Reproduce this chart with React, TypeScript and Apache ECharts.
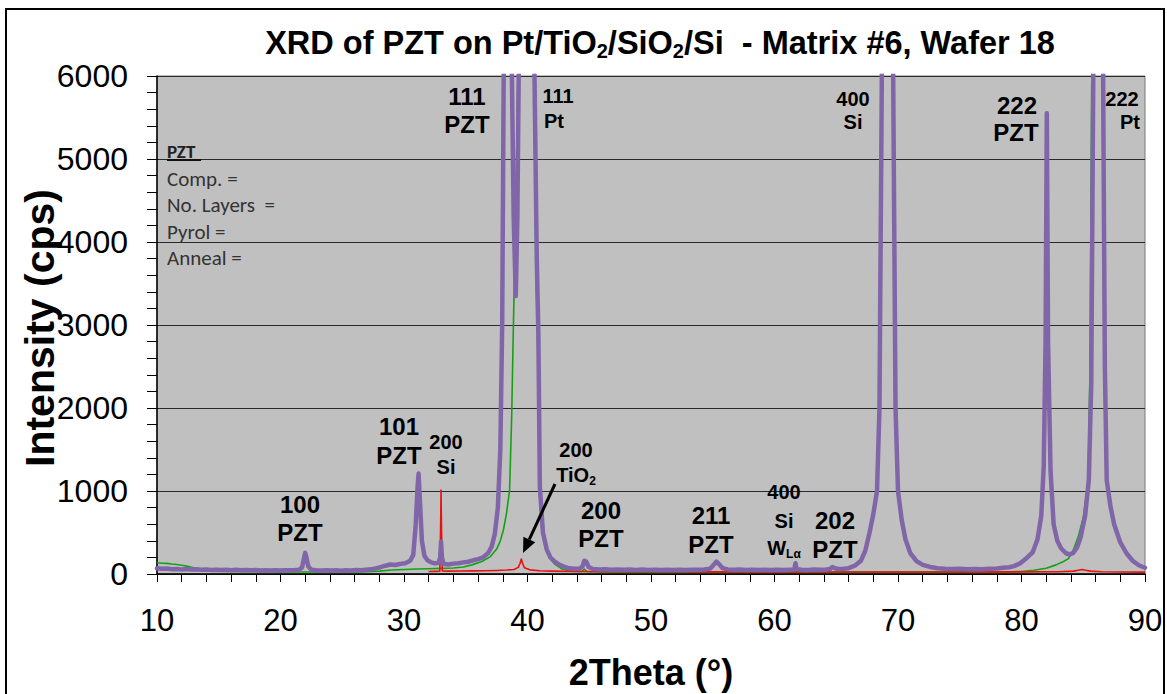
import React, { useEffect, useRef } from "react";
import * as echarts from "echarts";

// 2θ scan of the PZT film (counts per second)
const pztScan: [number, number][] = [
  [10, 68], [10.4, 62], [10.8, 66], [11.2, 58], [11.6, 61], [12, 55], [12.4, 59], [12.8, 53],
  [13.2, 56], [13.6, 50], [14, 54], [14.4, 49], [14.8, 52], [15.2, 47], [15.6, 51], [16, 46],
  [16.4, 50], [16.8, 45], [17.2, 48], [17.6, 44], [18, 47], [18.4, 43], [18.8, 46], [19.2, 42],
  [19.6, 45], [20, 43], [20.4, 46], [20.8, 44], [21.2, 48], [21.5, 52], [21.75, 80], [21.9, 190],
  [22.0, 255], [22.1, 200], [22.25, 90], [22.5, 52], [22.9, 45], [23.3, 42], [23.7, 46], [24.1, 41],
  [24.5, 44], [24.9, 40], [25.3, 45], [25.7, 42], [26.1, 47], [26.5, 45], [26.9, 50], [27.3, 56],
  [27.7, 68], [28.1, 82], [28.5, 100], [28.9, 115], [29.3, 108], [29.7, 122], [30.1, 130], [30.5, 160],
  [30.75, 230], [30.95, 600], [31.1, 1050], [31.18, 1210], [31.3, 850], [31.45, 400], [31.65, 220],
  [31.9, 165], [32.2, 140], [32.5, 128], [32.8, 135], [32.93, 200], [33.0, 390], [33.07, 200],
  [33.2, 120], [33.6, 115], [34.0, 125], [34.4, 130], [34.8, 140], [35.2, 148], [35.6, 165],
  [36.0, 180], [36.4, 200], [36.8, 250], [37.1, 330], [37.35, 480], [37.6, 800], [37.8, 1500],
  [37.95, 3000], [38.08, 6200], [38.4, 40000], [38.72, 6200], [38.88, 4300], [39.05, 3350],
  [39.18, 4300], [39.3, 6200], [39.76, 100000], [40.55, 6200], [40.75, 3800], [40.88, 2900],
  [41.0, 1050], [41.25, 500], [41.55, 300], [41.85, 200], [42.2, 150], [42.6, 110], [43.0, 85],
  [43.4, 68], [43.8, 62], [44.2, 66], [44.45, 90], [44.6, 160], [44.75, 150], [44.95, 85],
  [45.3, 60], [45.8, 55], [46.3, 58], [46.8, 52], [47.3, 55], [47.8, 50], [48.3, 54], [48.8, 49],
  [49.3, 53], [49.8, 48], [50.3, 52], [50.8, 48], [51.3, 51], [51.8, 47], [52.3, 51], [52.8, 48],
  [53.3, 52], [53.8, 50], [54.3, 55], [54.8, 65], [55.1, 115], [55.3, 150], [55.5, 120], [55.8, 70],
  [56.2, 55], [56.7, 50], [57.2, 53], [57.7, 48], [58.2, 52], [58.7, 47], [59.2, 51], [59.7, 48],
  [60.2, 52], [60.7, 49], [61.2, 52], [61.6, 54], [61.7, 130], [61.8, 56], [62.2, 52], [62.7, 49],
  [63.2, 53], [63.7, 50], [64.2, 55], [64.5, 62], [64.7, 85], [64.9, 70], [65.2, 60], [65.6, 62],
  [66.0, 70], [66.5, 100], [67.0, 160], [67.35, 280], [67.7, 500], [68.0, 720], [68.3, 1000],
  [68.5, 2000], [68.7, 6200], [69.15, 200000], [69.6, 6200], [69.8, 2000], [70.0, 1000],
  [70.3, 650], [70.6, 420], [71.0, 250], [71.5, 155], [72.0, 110], [72.6, 85], [73.2, 70],
  [73.8, 64], [74.4, 60], [75.0, 62], [75.6, 57], [76.2, 60], [76.8, 58], [77.4, 62], [78.0, 66],
  [78.5, 74], [79.0, 82], [79.4, 95], [79.9, 130], [80.4, 190], [80.9, 260], [81.3, 420],
  [81.6, 700], [81.8, 1300], [81.95, 2800], [82.05, 5550], [82.15, 2800], [82.35, 1250],
  [82.6, 600], [82.9, 400], [83.2, 310], [83.6, 250], [83.9, 235], [84.2, 255], [84.5, 320],
  [84.8, 450], [85.15, 700], [85.45, 1130], [85.65, 2300], [85.82, 6200], [86.2, 80000],
  [86.6, 6200], [86.75, 2500], [86.9, 1130], [87.2, 820], [87.5, 600], [88.0, 380], [88.5, 250],
  [89.0, 160], [89.5, 105], [90, 75],
];

// Bare Pt/TiO2/SiO2/Si substrate
const ptScan: [number, number][] = [
  [10, 135], [10.4, 130], [10.8, 128], [11.2, 120], [11.6, 115], [12, 105], [12.4, 95], [12.8, 82],
  [13.2, 70], [13.6, 58], [14, 48], [14.5, 40], [15, 34], [16, 30], [18, 27], [20, 25], [22, 24],
  [24, 24], [26, 26], [27, 28], [28, 35], [29, 48], [30, 55], [31, 60], [32, 64], [33, 68], [34, 72],
  [34.8, 85], [35.5, 110], [36.3, 150], [37.0, 210], [37.5, 300], [37.8, 400], [38.05, 530],
  [38.3, 730], [38.55, 1010], [38.72, 1900], [38.85, 2940], [39.0, 4000], [39.25, 6200],
  [39.76, 100000], [40.5, 6200], [40.7, 3600], [40.83, 2700], [40.95, 1000], [41.2, 480],
  [41.5, 280], [41.8, 190], [42.2, 120], [42.8, 60], [43.5, 35], [44.4, 30], [44.6, 60], [44.8, 30],
  [46, 24], [50, 22], [55, 22], [60, 22], [65, 22], [70, 22], [75, 22], [78, 24], [79, 26], [80, 30],
  [81, 45], [82, 70], [82.8, 110], [83.4, 150], [83.8, 185], [84.2, 290], [84.6, 450], [85.0, 680],
  [85.2, 900], [85.4, 1130], [85.55, 2500], [85.7, 6200], [86.1, 80000], [86.55, 6200],
  [86.72, 2500], [86.87, 1120], [87.17, 810], [87.47, 590], [87.97, 370], [88.47, 240],
  [88.97, 150], [89.47, 95], [90, 65],
];

// TiO2/SiO2/Si substrate
const tio2Scan: [number, number][] = [
  [32.0, 30], [32.5, 32], [32.9, 34], [32.97, 600], [33.0, 1010], [33.03, 600], [33.1, 36],
  [33.6, 35], [34.5, 37], [35.5, 38], [36.5, 40], [37.5, 43], [38.3, 48], [38.9, 55], [39.25, 80],
  [39.4, 130], [39.5, 180], [39.6, 130], [39.75, 75], [40.2, 50], [41, 40], [42, 35], [44, 30],
  [47, 28], [50, 27], [55, 26], [60, 26], [65, 25], [70, 25], [75, 25], [80, 26], [83, 28],
  [84.2, 35], [84.6, 45], [84.9, 55], [85.2, 45], [85.6, 35], [86.5, 28], [88, 25], [90, 22],
];

const xTickLabels = [10, 20, 30, 40, 50, 60, 70, 80, 90];
const yTickLabels = [0, 1000, 2000, 3000, 4000, 5000, 6000];

const SANS = '"Liberation Sans", Arial, Helvetica, sans-serif';
const NOTE_FONT = 'Carlito, Lato, "Open Sans", sans-serif';

type PeakLine = { x: number; y: number; size: number; text: string };

// Reflection labels, one entry per text line
const peakLines: PeakLine[] = [
  { x: 300, y: 504, size: 24, text: "100" },
  { x: 300, y: 532, size: 24, text: "PZT" },
  { x: 399, y: 426, size: 24, text: "101" },
  { x: 399, y: 455, size: 24, text: "PZT" },
  { x: 446, y: 442, size: 20, text: "200" },
  { x: 446, y: 467, size: 20, text: "Si" },
  { x: 467, y: 96, size: 24, text: "111" },
  { x: 467, y: 124, size: 24, text: "PZT" },
  { x: 558, y: 96, size: 20, text: "111" },
  { x: 554, y: 121, size: 20, text: "Pt" },
  { x: 576, y: 450, size: 20, text: "200" },
  { x: 576, y: 475, size: 20, text: "TiO{s|2}" },
  { x: 601, y: 510, size: 24, text: "200" },
  { x: 601, y: 538, size: 24, text: "PZT" },
  { x: 711, y: 515, size: 24, text: "211" },
  { x: 711, y: 544, size: 24, text: "PZT" },
  { x: 784, y: 492, size: 20, text: "400" },
  { x: 784, y: 521, size: 20, text: "Si" },
  { x: 784, y: 548, size: 20, text: "W{s|Lα}" },
  { x: 835, y: 520, size: 24, text: "202" },
  { x: 835, y: 549, size: 24, text: "PZT" },
  { x: 853, y: 99, size: 20, text: "400" },
  { x: 853, y: 122, size: 20, text: "Si" },
  { x: 1017, y: 105, size: 24, text: "222" },
  { x: 1016, y: 132, size: 24, text: "PZT" },
  { x: 1122, y: 99, size: 20, text: "222" },
  { x: 1130, y: 122, size: 20, text: "Pt" },
];

const sampleNotes = ["Comp. =", "No. Layers  =", "Pyrol =", "Anneal ="];

function arrowHead(x1: number, y1: number, x2: number, y2: number, len: number, half: number) {
  const d = Math.hypot(x2 - x1, y2 - y1);
  const ux = (x2 - x1) / d;
  const uy = (y2 - y1) / d;
  const bx = x2 - ux * len;
  const by = y2 - uy * len;
  return {
    base: [bx, by],
    points: [
      [x2, y2],
      [bx - uy * half, by + ux * half],
      [bx + uy * half, by - ux * half],
    ],
  };
}

export default function App() {
  const ref = useRef<HTMLDivElement>(null);

  useEffect(() => {
    if (!ref.current) return;
    const chart = echarts.init(ref.current, null, { renderer: "svg" });

    const subStyle = (size: number) => ({
      fontSize: Math.round(size * 0.62),
      fontWeight: "bold",
      fontFamily: SANS,
      fill: "#000",
      lineHeight: Math.round(size * 0.55),
      verticalAlign: "bottom",
    });

    const labelTexts = peakLines.map((p) => ({
      type: "text",
      x: p.x,
      y: p.y,
      z: 20,
      style: {
        text: p.text,
        fontSize: p.size,
        fontWeight: "bold",
        fontFamily: SANS,
        fill: "#000",
        align: "center",
        verticalAlign: "middle",
        lineHeight: p.size + 4,
        rich: { s: subStyle(p.size) },
      },
    }));

    const noteTexts = sampleNotes.map((t, i) => ({
      type: "text",
      x: 167,
      y: 178.5 + i * 26.6,
      z: 20,
      style: {
        text: t,
        fontSize: 21,
        fontFamily: NOTE_FONT,
        fill: "#333",
        align: "left",
        verticalAlign: "middle",
      },
    }));

    const ah = arrowHead(555, 484, 523, 553, 15, 6.5);

    chart.setOption({
      animation: false,
      backgroundColor: "#fff",
      textStyle: { fontFamily: SANS },
      grid: {
        left: 157,
        top: 76,
        width: 988,
        height: 498,
        show: true,
        backgroundColor: "#c0c0c0",
        borderColor: "#7a7a7a",
        borderWidth: 1,
      },
      xAxis: {
        type: "value",
        min: xTickLabels[0],
        max: xTickLabels[xTickLabels.length - 1],
        interval: 10,
        axisLine: { show: true, onZero: false, lineStyle: { color: "#000", width: 1.5 } },
        axisTick: { show: true, length: 8, lineStyle: { color: "#000", width: 1 } },
        minorTick: { show: true, splitNumber: 5, length: 8, lineStyle: { color: "#000", width: 1 } },
        splitLine: { show: false },
        axisLabel: {
          fontSize: 31,
          color: "#000",
          margin: 31,
          fontFamily: SANS,
          formatter: (v: number) => String(v),
        },
      },
      yAxis: {
        type: "value",
        min: yTickLabels[0],
        max: yTickLabels[yTickLabels.length - 1],
        interval: 1000,
        axisLine: { show: true, lineStyle: { color: "#000", width: 1.5 } },
        axisTick: { show: true, length: 10, lineStyle: { color: "#000", width: 1 } },
        minorTick: { show: true, splitNumber: 5, length: 10, lineStyle: { color: "#000", width: 1 } },
        splitLine: { show: true, lineStyle: { color: "#2a2a2a", width: 1 } },
        axisLabel: {
          fontSize: 32,
          color: "#000",
          margin: 29,
          fontFamily: SANS,
          formatter: (v: number) => String(v),
        },
      },
      series: [
        {
          name: "Pt/TiO2/SiO2/Si",
          type: "line",
          data: ptScan,
          showSymbol: false,
          clip: true,
          lineStyle: { color: "#14a214", width: 1.6, join: "round" },
          z: 2,
        },
        {
          name: "TiO2/SiO2/Si",
          type: "line",
          data: tio2Scan,
          showSymbol: false,
          clip: true,
          lineStyle: { color: "#e81010", width: 1.6, join: "round" },
          z: 3,
        },
        {
          name: "PZT",
          type: "line",
          data: pztScan,
          showSymbol: false,
          clip: true,
          lineStyle: { color: "#8066a8", width: 4.5, join: "round", cap: "round" },
          z: 4,
        },
      ],
      graphic: [
        {
          type: "rect",
          z: 0,
          shape: { x: 6, y: 9, width: 1158, height: 700 },
          style: { fill: "none", stroke: "#000", lineWidth: 2 },
        },
        {
          type: "text",
          x: 660,
          y: 43,
          z: 20,
          style: {
            text: "XRD of PZT on Pt/TiO{s|2}/SiO{s|2}/Si  - Matrix #6, Wafer 18",
            fontSize: 32.5,
            fontWeight: "bold",
            fontFamily: SANS,
            fill: "#000",
            align: "center",
            verticalAlign: "middle",
            lineHeight: 36,
            rich: { s: subStyle(32) },
          },
        },
        {
          type: "text",
          x: 40,
          y: 328,
          rotation: Math.PI / 2,
          z: 20,
          style: {
            text: "Intensity (cps)",
            fontSize: 41,
            fontWeight: "bold",
            fontFamily: SANS,
            fill: "#000",
            align: "center",
            verticalAlign: "middle",
          },
        },
        {
          type: "text",
          x: 651,
          y: 672,
          z: 20,
          style: {
            text: "2Theta (°)",
            fontSize: 36,
            fontWeight: "bold",
            fontFamily: SANS,
            fill: "#000",
            align: "center",
            verticalAlign: "middle",
          },
        },
        {
          type: "text",
          x: 167,
          y: 151,
          z: 20,
          style: {
            text: "PZT",
            fontSize: 19,
            fontWeight: "bold",
            fontFamily: NOTE_FONT,
            fill: "#222",
            align: "left",
            verticalAlign: "middle",
          },
        },
        {
          type: "line",
          z: 20,
          shape: { x1: 167, y1: 160, x2: 201, y2: 160 },
          style: { stroke: "#111", lineWidth: 2 },
        },
        ...noteTexts,
        ...labelTexts,
        {
          type: "line",
          z: 21,
          shape: { x1: 555, y1: 484, x2: ah.base[0], y2: ah.base[1] },
          style: { stroke: "#000", lineWidth: 3 },
        },
        {
          type: "polygon",
          z: 21,
          shape: { points: ah.points },
          style: { fill: "#000" },
        },
      ],
    });

    return () => chart.dispose();
  }, []);

  return (
    <div
      ref={ref}
      style={{ position: "fixed", left: 0, top: 0, width: 1167, height: 694, background: "#fff" }}
    />
  );
}
